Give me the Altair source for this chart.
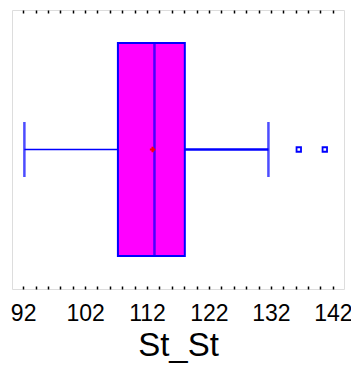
import altair as alt
import pandas as pd

variable = ["St_St"]
whisker_low = [92.2]
q1 = [107.3]
median = [113.2]
q3 = [118.1]
whisker_high = [131.6]
mean = [112.9]
outliers = [136.5, 140.7]
major_ticks = [92, 102, 112, 122, 132, 142]
minor_ticks = list(range(92, 143, 2))

box_df = pd.DataFrame({"var": variable, "lo": whisker_low, "q1": q1, "med": median,
                       "q3": q3, "hi": whisker_high, "mean": mean})
out_df = pd.DataFrame({"var": variable * len(outliers), "v": outliers})

xscale = alt.Scale(domain=[90.2, 143.8], nice=False, zero=False)
yscale = alt.Scale(paddingInner=0, paddingOuter=0)
noy = alt.Y("var:N", scale=yscale, axis=None)

label_expr = "indexof([92,102,112,122,132,142], datum.value) >= 0 ? datum.value : ''"

x_bottom = alt.X("lo:Q", scale=xscale, title="St_St",
                 axis=alt.Axis(orient="bottom", values=minor_ticks, labelExpr=label_expr,
                               offset=-3, tickSize=3, tickColor="black", tickWidth=1.5,
                               domain=False, grid=False, labelOverlap=False,
                               labelFont="Liberation Sans", labelFontSize=23,
                               labelColor="black", labelPadding=13,
                               titleFont="Liberation Sans", titleFontSize=33,
                               titleFontWeight="normal", titleColor="black",
                               titlePadding=4))


def xq(field):
    return alt.X(field, scale=xscale, axis=None)


base = alt.Chart(box_df)

left_whisker = base.mark_rule(color="#0000FF", strokeWidth=1.5).encode(
    x=x_bottom, x2="q1:Q", y=noy)
right_whisker = base.mark_rule(color="#0000FF", strokeWidth=2.5).encode(
    x=alt.X("q3:Q", scale=xscale, title=None,
            axis=alt.Axis(orient="top", values=minor_ticks, labels=False, title=None,
                          offset=-3, tickSize=3, tickColor="black", tickWidth=1.5,
                          domain=False, grid=False)),
    x2="hi:Q", y=noy)
cap_lo = base.mark_tick(color="#0000FF", thickness=2.5, size=55, orient="vertical").encode(
    x=xq("lo:Q"), y=noy)
cap_hi = base.mark_tick(color="#0000FF", thickness=2.5, size=55, orient="vertical").encode(
    x=xq("hi:Q"), y=noy)
box = base.mark_bar(color="#FF00FF", stroke="#0000FF", strokeWidth=2, size=213,
                    orient="horizontal").encode(
    x=xq("q1:Q"), x2="q3:Q", y=noy)
med = base.mark_tick(color="#0000FF", thickness=2.5, size=213, orient="vertical").encode(
    x=xq("med:Q"), y=noy)
mean_pt = base.mark_point(shape="cross", color="#FF0000", filled=True, size=30,
                          opacity=1).encode(
    x=xq("mean:Q"), y=noy)
outs = alt.Chart(out_df).mark_square(filled=False, color="#0000FF", size=20,
                                     strokeWidth=1.8, opacity=1).encode(
    x=xq("v:Q"), y=noy)

chart = alt.layer(left_whisker, right_whisker, cap_lo, cap_hi, box, med, mean_pt, outs).properties(
    width=332, height=279,
    autosize=alt.AutoSizeParams(type="none"),
    padding={"left": 4, "top": 2, "right": 7, "bottom": 75},
).configure_view(stroke="black", strokeWidth=2).configure(background="white")

chart.save("out.html", embed_options={"renderer": "svg", "actions": False})
